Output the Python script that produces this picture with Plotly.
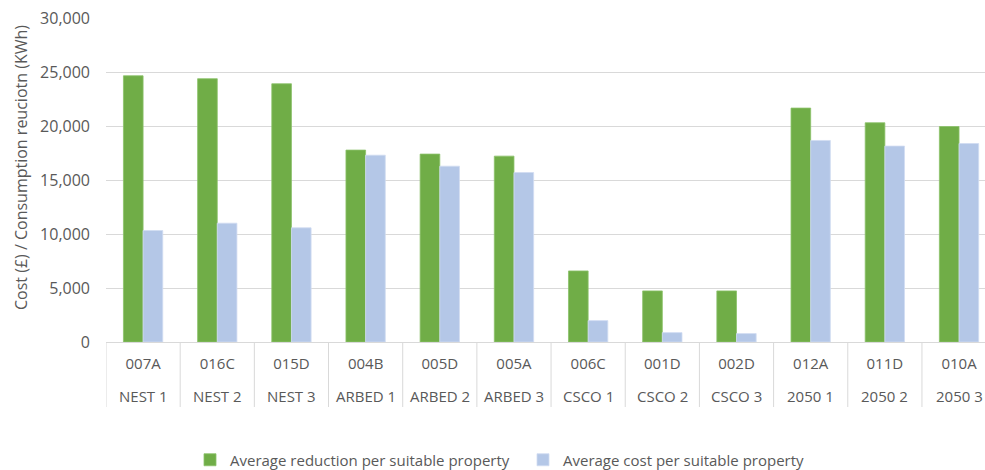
import plotly.graph_objects as go

# Area codes (upper label row) and scheme labels (lower label row)
codes = ["007A", "016C", "015D", "004B", "005D", "005A",
         "006C", "001D", "002D", "012A", "011D", "010A"]
schemes = ["NEST 1", "NEST 2", "NEST 3", "ARBED 1", "ARBED 2", "ARBED 3",
           "CSCO 1", "CSCO 2", "CSCO 3", "2050 1", "2050 2", "2050 3"]

# Average values per suitable property
avg_reduction = [24650, 24380, 23910, 17770, 17400, 17210,
                 6580, 4730, 4730, 21660, 20300, 19950]
avg_cost = [10320, 11000, 10570, 17300, 16280, 15690,
            1980, 870, 780, 18660, 18140, 18380]

y_ticks = [0, 5000, 10000, 15000, 20000, 25000, 30000]

GREEN = "#70AD47"
BLUE = "#B4C7E7"
GRID = "#D9D9D9"
TEXT = "#595959"
FONT = "Open Sans"

W, H = 985, 470
LEFT = 106
TOP = 18
PLOT_H = 324          # plot-area height in px (used for paper offsets below the axis)
PLOT_W = W - LEFT
BOTTOM = H - TOP - PLOT_H
LABEL_DEPTH = 65      # how far the category separators reach below the axis

fig = go.Figure()
fig.add_trace(go.Bar(
    x=codes, y=avg_reduction, name="Average reduction per suitable property",
    marker=dict(color=GREEN, line=dict(color="#8CC26A", width=0.8)),
))
fig.add_trace(go.Bar(
    x=codes, y=avg_cost, name="Average cost per suitable property",
    marker=dict(color=BLUE, line=dict(color="#D0DCF1", width=0.8)),
))

# Scheme labels under the area codes, and separators between categories
for i, s in enumerate(schemes):
    fig.add_annotation(x=codes[i], xref="x", y=-54 / PLOT_H, yref="paper",
                       text=s, showarrow=False, yanchor="middle",
                       font=dict(family=FONT, size=15, color=TEXT))
for i in range(len(codes) + 1):
    fig.add_shape(type="line", xref="x", yref="paper",
                  x0=i - 0.5, x1=i - 0.5, y0=0, y1=-LABEL_DEPTH / PLOT_H,
                  line=dict(color=GRID, width=1), layer="below")

# Vertical axis title
fig.add_annotation(x=(21 - LEFT) / PLOT_W, xref="paper", xanchor="center",
                   y=(PLOT_H + TOP - 168) / PLOT_H, yref="paper", yanchor="middle",
                   text="Cost (£) / Consumption reuciotn (KWh)", textangle=-90,
                   showarrow=False, font=dict(family=FONT, size=16, color=TEXT))

fig.update_layout(
    width=W, height=H,
    margin=dict(l=LEFT, r=0, t=TOP, b=BOTTOM),
    paper_bgcolor="white", plot_bgcolor="white",
    barmode="group", bargap=0.47, bargroupgap=0,
    font=dict(family=FONT, size=15, color=TEXT),
    showlegend=True,
    legend=dict(orientation="h", xanchor="left", x=(190 - LEFT) / PLOT_W,
                yref="container", y=(H - 460) / H, yanchor="middle",
                entrywidth=288, entrywidthmode="pixels",
                font=dict(family=FONT, size=15, color=TEXT),
                itemwidth=30, traceorder="normal"),
)

fig.update_xaxes(
    type="category",
    range=[-0.5, 11.35],
    showline=True, linecolor=GRID, linewidth=1,
    showgrid=False, ticks="",
    ticklabelstandoff=8,
    automargin=False,
    tickfont=dict(family=FONT, size=15, color=TEXT),
)
fig.update_yaxes(
    range=[0, 30000],
    tickvals=y_ticks, tickformat=",",
    showgrid=True, gridcolor=GRID, gridwidth=1,
    zeroline=False, showline=False, ticks="",
    ticklabelstandoff=15,
    automargin=False,
    tickfont=dict(family=FONT, size=16, color=TEXT),
)

fig.write_html("out.html")
